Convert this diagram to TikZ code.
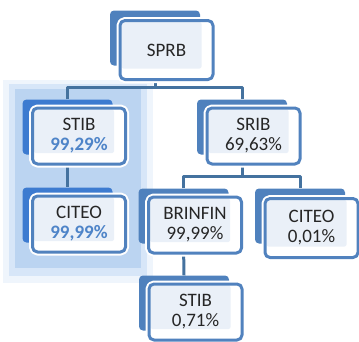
\documentclass[tikz,border=0pt]{standalone}
\usepackage{fontspec}
\setmainfont{Carlito}
\definecolor{backblue}{HTML}{4F81BD}
\definecolor{hiback}{HTML}{3D7BD0}
\definecolor{frameblue}{HTML}{5182BE}
\definecolor{linkblue}{HTML}{44729F}
\definecolor{lightfill}{HTML}{EAF0F8}
\definecolor{textgray}{HTML}{262626}
\definecolor{pctblue}{HTML}{4E84C8}
\definecolor{glowa}{HTML}{BBD4F1}
\definecolor{glowb}{HTML}{D7E6F8}
\definecolor{glowc}{HTML}{EFF5FC}
\newcommand{\hipct}[1]{\textcolor{pctblue}{\bfseries #1}}
\begin{document}
\begin{tikzpicture}[x=1pt,y=-1pt,line join=round,
	back/.style={rounded corners=4pt,minimum width=90pt,minimum height=55pt,inner sep=0pt},
	front/.style={draw=frameblue,line width=3pt,fill=white,rounded corners=5pt,
		minimum width=93pt,minimum height=56pt,inner sep=0pt,align=center,text=textgray,
		font=\fontsize{19}{20}\selectfont,preaction={draw=white,line width=7pt},
		path picture={\fill[lightfill,rounded corners=2pt]
			([shift={(1.5,1.5)}]path picture bounding box.north west) rectangle
			([shift={(-11.5,-11)}]path picture bounding box.south east);}},
	link/.style={draw=linkblue,line width=3pt}]
	\useasboundingbox (0,0) rectangle (359,341);
	\fill[glowc] (3,80) rectangle (153,283);
	\fill[glowb] (9,84) rectangle (147,276);
	\fill[glowa] (15,89) rectangle (141,268);
	\foreach \n/\x/\y/\c in {sprb/155/38/backblue,stib/67.5/127/hiback,citeo/67.5/215/hiback,
		srib/242/127/backblue,brinfin/183.5/216/backblue,citeob/300/216/backblue,stibb/184/303/backblue}
	\node[back,fill=\c] (\n) at (\x,\y) {};
	\coordinate (bar1) at ([shift={(0,-12)}]stib.north);
	\coordinate (bar2) at ([shift={(0,-12)}]brinfin.north);
	\draw[link] (sprb.south) -- (sprb.south |- bar1);
	\draw[link] (stib.north) -- (bar1) -| (srib.north);
	\draw[link] (stib.south) -- (citeo.north);
	\draw[link] (srib.south) -- (srib.south |- bar2);
	\draw[link] (brinfin.north) -- (bar2) -| (citeob.north);
	\draw[link] (brinfin.south) -- (stibb.north);
	\foreach \n/\h/\t in {sprb/59/SPRB,stib/56/{STIB\\\hipct{99,29\%}},citeo/56/{CITEO\\\hipct{99,99\%}},
		srib/56/{SRIB\\69,63\%},brinfin/56/{BRINFIN\\99,99\%},citeob/59/{CITEO\\0,01\%},stibb/56/{STIB\\0,71\%}}
	\node[front,minimum height=\h pt] (\n-f) at ([shift={(11.5,9+(\h-56)/2)}]\n) {\t};
\end{tikzpicture}
\end{document}
